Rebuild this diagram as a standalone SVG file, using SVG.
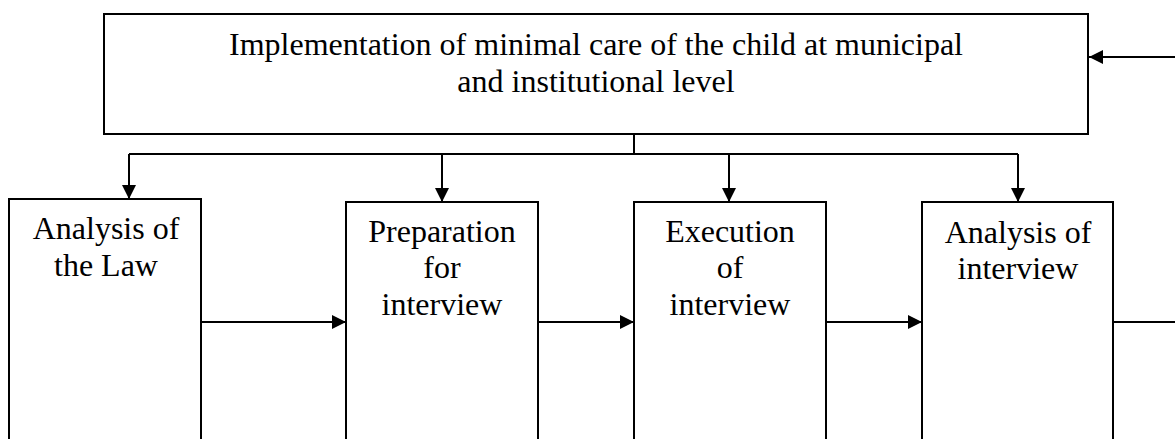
<svg xmlns="http://www.w3.org/2000/svg" width="1175" height="439" viewBox="0 0 1175 439">
  <style>
    .box { fill: #ffffff; stroke: #000000; stroke-width: 2; }
    .line { fill: none; stroke: #000000; stroke-width: 2; }
    .arr { marker-end: url(#ah); }
    text { font-family: "Liberation Serif", "Times New Roman", serif; font-size: 32px; fill: #000000; text-anchor: middle; }
  </style>
  <defs>
    <marker id="ah" viewBox="0 0 14 14" refX="14" refY="7" markerWidth="14" markerHeight="14" markerUnits="userSpaceOnUse" orient="auto">
      <path d="M0,0 L14,7 L0,14 z" fill="#000000"/>
    </marker>
  </defs>
  <rect width="1175" height="439" fill="#ffffff"/>

  <g id="node-top">
    <rect class="box" x="104" y="14" width="984" height="120"/>
    <text x="596" y="55">Implementation of minimal care of the child at municipal</text>
    <text x="596" y="92">and institutional level</text>
  </g>

  <g id="node-law">
    <rect class="box" x="9" y="199" width="192" height="260"/>
    <text x="106" y="239">Analysis of</text>
    <text x="106" y="276">the Law</text>
  </g>

  <g id="node-prep">
    <rect class="box" x="346" y="202" width="192" height="260"/>
    <text x="442" y="242">Preparation</text>
    <text x="442" y="278">for</text>
    <text x="442" y="315">interview</text>
  </g>

  <g id="node-exec">
    <rect class="box" x="634" y="202" width="192" height="260"/>
    <text x="730" y="242">Execution</text>
    <text x="730" y="278">of</text>
    <text x="730" y="315">interview</text>
  </g>

  <g id="node-analysis">
    <rect class="box" x="922" y="202" width="191" height="260"/>
    <text x="1018" y="243">Analysis of</text>
    <text x="1018" y="279">interview</text>
  </g>

  <g id="connectors">
    <line class="line" x1="634" y1="134" x2="634" y2="154"/>
    <line class="line" x1="129" y1="154" x2="1018" y2="154"/>
    <line class="line arr" x1="129" y1="154" x2="129" y2="199"/>
    <line class="line arr" x1="442" y1="154" x2="442" y2="202"/>
    <line class="line arr" x1="729" y1="154" x2="729" y2="202"/>
    <line class="line arr" x1="1018" y1="154" x2="1018" y2="202"/>
    <line class="line arr" x1="201" y1="322" x2="346" y2="322"/>
    <line class="line arr" x1="538" y1="322" x2="634" y2="322"/>
    <line class="line arr" x1="826" y1="322" x2="922" y2="322"/>
    <line class="line" x1="1113" y1="322" x2="1175" y2="322"/>
    <line class="line arr" x1="1175" y1="57" x2="1089" y2="57"/>
  </g>
</svg>
